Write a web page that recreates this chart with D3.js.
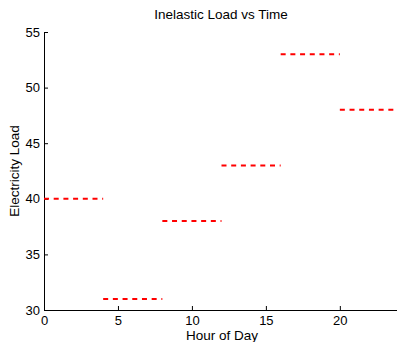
<!DOCTYPE html>
<html><head><meta charset="utf-8">
<script src="https://cdn.jsdelivr.net/npm/d3@7"></script>
<style>body{margin:0;background:#fff}svg{display:block}text{font-family:"Liberation Sans",Arial,sans-serif;fill:#000}</style>
</head><body>
<svg id="c" width="397" height="342"></svg>
<script>
const startHours = [0, 4, 8, 12, 16, 20];
const endHours = [4, 8, 12, 16, 20, 24];
const loads = [40, 31, 38, 43, 53, 48];
const xTicks = [0, 5, 10, 15, 20];
const yTicks = [30, 35, 40, 45, 50, 55];

const svg = d3.select("#c");
const x = d3.scaleLinear().domain([0, 24]).range([44, 399]);
const y = d3.scaleLinear().domain([30, 55]).range([310, 32]);

// Axes
const xAxis = d3.axisBottom(x).tickValues(xTicks).tickSize(-4).tickPadding(6).tickSizeOuter(0);
const gx = svg.append("g").attr("transform", "translate(0,310)").call(xAxis);
gx.select(".domain").attr("stroke", "#000");
gx.selectAll(".tick line").attr("stroke", "#000");
gx.selectAll("text").attr("font-size", 13).attr("font-family", "Liberation Sans, Arial, sans-serif");

const yAxis = d3.axisLeft(y).tickValues(yTicks).tickSize(-4).tickPadding(4).tickSizeOuter(0);
const gy = svg.append("g").attr("transform", "translate(44,0)").call(yAxis);
gy.select(".domain").attr("stroke", "#000");
gy.selectAll(".tick line").attr("stroke", "#000");
gy.selectAll("text").attr("font-size", 13).attr("font-family", "Liberation Sans, Arial, sans-serif");

// Segments
const segs = startHours.map((s, i) => ({s, e: endHours[i], v: loads[i]}));
svg.append("g").selectAll("line").data(segs).join("line")
  .attr("x1", d => x(d.s)).attr("x2", d => x(d.e))
  .attr("y1", d => y(d.v)).attr("y2", d => y(d.v))
  .attr("stroke", "#ff0000").attr("stroke-width", 2)
  .attr("stroke-dasharray", "5,4.7");

// Labels
svg.append("text").attr("x", 221).attr("y", 19).attr("text-anchor", "middle")
  .attr("font-size", 13.5).text("Inelastic Load vs Time");
svg.append("text").attr("x", 222).attr("y", 340).attr("text-anchor", "middle")
  .attr("font-size", 13.5).text("Hour of Day");
svg.append("text").attr("transform", "translate(19,171) rotate(-90)").attr("text-anchor", "middle")
  .attr("font-size", 13.5).text("Electricity Load");
</script>
</body></html>
